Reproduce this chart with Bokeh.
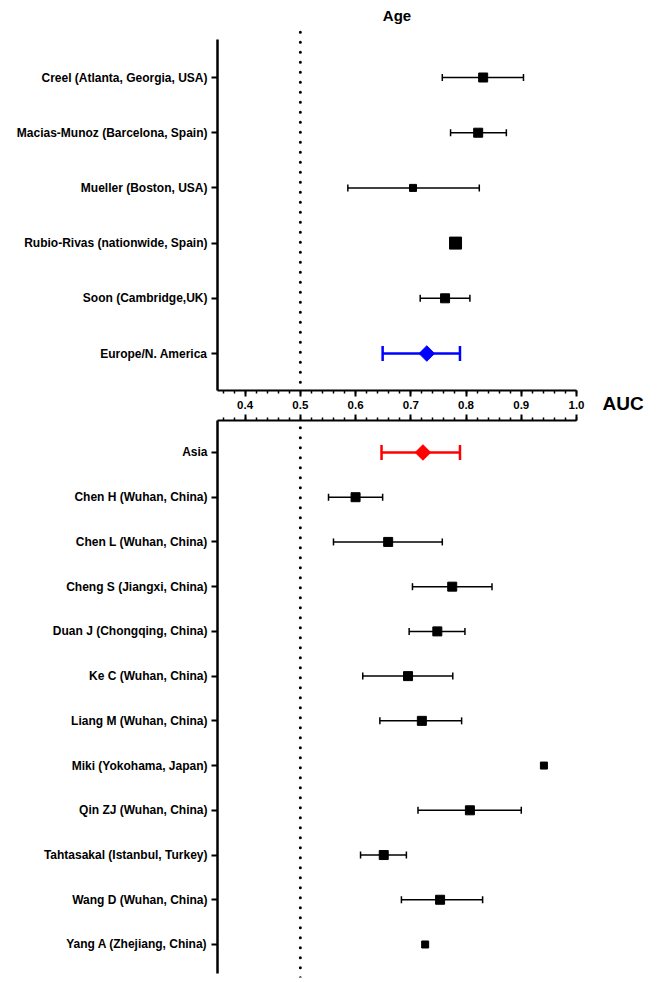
import numpy as np
from bokeh.plotting import figure
from bokeh.layouts import column, row
from bokeh.models import (ColumnDataSource, Range1d, FixedTicker, SingleIntervalTicker,
                          PrintfTickFormatter, CustomJSTickFormatter, Whisker, TeeHead, Label)
from bokeh.embed import file_html
from bokeh.resources import INLINE

# ---------------- data ----------------
title_text = "Age"
x_label = "AUC"
ref_auc = 0.5

names_top = ["Creel (Atlanta, Georgia, USA)", "Macias-Munoz (Barcelona, Spain)",
             "Mueller (Boston, USA)", "Rubio-Rivas (nationwide, Spain)",
             "Soon (Cambridge,UK)", "Europe/N. America"]
auc_top = [0.831, 0.822, 0.704, 0.781, 0.762, 0.729]
lo_top = [0.757, 0.772, 0.586, None, 0.717, 0.649]
hi_top = [0.904, 0.873, 0.824, None, 0.807, 0.789]
pooled_top = [False, False, False, False, False, True]

names_bot = ["Asia", "Chen H (Wuhan, China)", "Chen L (Wuhan, China)",
             "Cheng S (Jiangxi, China)", "Duan J (Chongqing, China)",
             "Ke C (Wuhan, China)", "Liang M (Wuhan, China)",
             "Miki (Yokohama, Japan)", "Qin ZJ (Wuhan, China)",
             "Tahtasakal (Istanbul, Turkey)", "Wang D (Wuhan, China)",
             "Yang A (Zhejiang, China)"]
auc_bot = [0.722, 0.600, 0.659, 0.775, 0.748, 0.695, 0.720, 0.941, 0.807, 0.651, 0.753, 0.726]
lo_bot = [0.647, 0.551, 0.560, 0.703, 0.697, 0.613, 0.644, None, 0.713, 0.609, 0.683, None]
hi_bot = [0.789, 0.649, 0.757, 0.847, 0.798, 0.776, 0.792, None, 0.900, 0.692, 0.830, None]
pooled_bot = [True] + [False] * 11

# ---------------- styles ----------------
FONT = "Liberation Sans"
size_top = [9, 9, 7, 12, 9, 0]
size_bot = [0, 9, 9, 9, 9, 9, 9, 7, 9, 9, 9, 7]
pooled_color_top = "#0000FF"
pooled_color_bot = "#FF0000"


def style_y_axis(p, names, bounds):
    ax = p.yaxis[0]
    ax.ticker = FixedTicker(ticks=list(range(len(names))))
    ax.major_label_overrides = {i: n for i, n in enumerate(names)}
    ax.bounds = bounds
    ax.major_label_text_font = FONT
    ax.major_label_text_font_style = "bold"
    ax.major_label_text_font_size = "12px"
    ax.major_label_text_color = "black"
    ax.major_label_standoff = 4
    ax.axis_line_width = 2.5
    ax.axis_line_color = "black"
    ax.major_tick_out = 6
    ax.major_tick_in = 0
    ax.major_tick_line_width = 2
    ax.minor_tick_line_color = None


def style_x_axis(p, show_labels):
    ax = p.xaxis[0]
    ax.ticker = SingleIntervalTicker(interval=0.1, num_minor_ticks=5)
    ax.axis_line_width = 2
    ax.axis_line_color = "black"
    ax.major_tick_out = 6
    ax.major_tick_in = 0
    ax.minor_tick_out = 3
    ax.minor_tick_in = 0
    ax.major_tick_line_width = 2
    ax.minor_tick_line_width = 1.5
    ax.major_label_text_font = FONT
    ax.major_label_text_font_style = "bold"
    ax.major_label_text_color = "black"
    if show_labels:
        ax.formatter = PrintfTickFormatter(format="%.1f")
        ax.major_label_text_font_size = "11.5px"
        ax.major_label_standoff = 4
    else:
        ax.formatter = CustomJSTickFormatter(code="return ''")
        ax.major_label_text_font_size = "1px"
        ax.major_label_standoff = 0


def ref_line(p, y_from, y_to):
    src = ColumnDataSource(dict(x=[ref_auc], lo=[y_from], hi=[y_to]))
    p.add_layout(Whisker(source=src, base="x", lower="lo", upper="hi", dimension="height",
                         line_color="black", line_width=3, line_dash="0 10", line_cap="round",
                         lower_head=None, upper_head=None))


def panel(p, names, auc, lo, hi, pooled, sizes, pooled_color):
    n = len(names)
    ys = list(range(n))
    st = [i for i in range(n) if not pooled[i]]
    src_s = ColumnDataSource(dict(x=[auc[i] for i in st], y=[ys[i] for i in st],
                                  s=[sizes[i] for i in st]))
    ci = [i for i in st if lo[i] is not None]
    src_ci = ColumnDataSource(dict(y=[ys[i] for i in ci], lo=[lo[i] for i in ci],
                                   hi=[hi[i] for i in ci]))
    p.add_layout(Whisker(source=src_ci, base="y", lower="lo", upper="hi", dimension="width",
                         line_color="black", line_width=1.5,
                         lower_head=TeeHead(size=7, line_width=1.5, line_color="black"),
                         upper_head=TeeHead(size=7, line_width=1.5, line_color="black")))
    p.scatter("x", "y", source=src_s, marker="square", size="s", color="black")
    pl = [i for i in range(n) if pooled[i]]
    src_p = ColumnDataSource(dict(x=[auc[i] for i in pl], y=[ys[i] for i in pl],
                                  lo=[lo[i] for i in pl], hi=[hi[i] for i in pl]))
    p.add_layout(Whisker(source=src_p, base="y", lower="lo", upper="hi", dimension="width",
                         line_color=pooled_color, line_width=2.5,
                         lower_head=TeeHead(size=15, line_width=2.5, line_color=pooled_color),
                         upper_head=TeeHead(size=15, line_width=2.5, line_color=pooled_color)))
    p.scatter("x", "y", source=src_p, marker="square", size=11, angle=np.pi / 4,
              color=pooled_color)


# ---------------- top panel ----------------
top_y_range = Range1d(5.670, -0.942)
top = figure(frame_width=359, frame_height=365,
             x_range=Range1d(0.35, 1.0), y_range=top_y_range,
             output_backend="svg", toolbar_location=None,
             min_border_left=217, min_border_right=20, min_border_top=25, min_border_bottom=23,
             x_axis_location="below")
top.outline_line_color = None
top.grid.visible = False
style_y_axis(top, names_top, (-0.688, 5.670))
style_x_axis(top, True)
ref_line(top, -1.0, 6.0)
panel(top, names_top, auc_top, lo_top, hi_top, pooled_top, size_top, pooled_color_top)
top.add_layout(Label(x=0.675, y=-1.123, text=title_text, text_align="center",
                     text_font=FONT, text_font_style="bold", text_font_size="15px",
                     text_baseline="middle", text_color="black"), "above")

# ---------------- axis title at the right of the shared x axis ----------------
auc_fig = figure(width=60, height=413, x_range=Range1d(0, 60), y_range=top_y_range,
                 output_backend="svg", toolbar_location=None,
                 x_axis_location=None, y_axis_location=None,
                 min_border_left=0, min_border_right=0, min_border_top=25, min_border_bottom=23)
auc_fig.outline_line_color = None
auc_fig.grid.visible = False
auc_fig.add_layout(Label(x=6, y=5.90, text=x_label,
                         text_font=FONT, text_font_style="bold", text_font_size="19px",
                         text_baseline="middle", text_align="left", text_color="black"),
                   "below")

# ---------------- bottom panel ----------------
bot = figure(frame_width=359, frame_height=557,
             x_range=Range1d(0.35, 1.0), y_range=Range1d(11.738, -0.715),
             output_backend="svg", toolbar_location=None,
             min_border_left=217, min_border_right=20, min_border_top=7, min_border_bottom=1,
             x_axis_location="above")
bot.outline_line_color = None
bot.grid.visible = False
style_y_axis(bot, names_bot, (-0.715, 11.648))
style_x_axis(bot, False)
ref_line(bot, -1.0, 12.0)
panel(bot, names_bot, auc_bot, lo_bot, hi_bot, pooled_bot, size_bot, pooled_color_bot)

layout = column(row(top, auc_fig, spacing=0), bot, spacing=0)
open("out.html", "w").write(file_html(layout, INLINE))
